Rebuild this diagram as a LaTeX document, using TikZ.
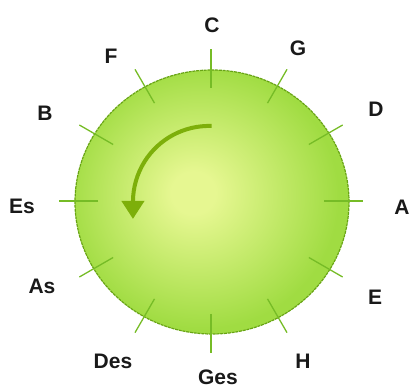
\documentclass[tikz,border=0pt]{standalone}
\usepackage{fontspec}
\setmainfont{Liberation Sans}
\usetikzlibrary{arrows.meta}
\definecolor{ballin}{RGB}{230,247,145}
\definecolor{ballout}{RGB}{160,220,66}
\definecolor{rimc}{RGB}{104,164,20}
\definecolor{tickc}{RGB}{118,188,38}
\definecolor{arrc}{RGB}{125,175,10}
\pgfdeclareradialshading{ball}{\pgfpoint{-3.7bp}{1.9bp}}{color(0bp)=(ballin); color(4bp)=(ballin); color(25bp)=(ballout); color(50bp)=(ballout)}
\begin{document}
\begin{tikzpicture}[x=1pt,y=1pt,
  lbl/.style={font=\bfseries\fontsize{21}{21}\selectfont, inner sep=0pt, text=black!90},
  tickline/.style={tickc, line width=1.3pt},
  rim/.style={rimc, line width=1.2pt, dash pattern=on 3pt off 0.8pt},
  turn/.style={arrc, line width=4pt, -{Triangle[width=22pt,length=18pt]}}]
\useasboundingbox (0,0) rectangle (412,390);
\coordinate (O) at (211,189);
\coordinate (B0) at (212,188);
\shade[shading=ball] (B0) ellipse [x radius=137, y radius=132];
\draw[rim] (B0) ellipse [x radius=137, y radius=132];
\foreach \a in {0,30,...,330}
  \draw[tickline, shift={(O)}] (\a:113) -- (\a:152);
\coordinate (arrstart) at (211.6,264);
\draw[turn] (arrstart) arc[start angle=88, end angle=180, radius=76] -- ++(0,-17);
\node[lbl] (nC) at (212,365) {C};
\node[lbl] (nG) at (298,342) {G};
\node[lbl] (nD) at (376,281) {D};
\node[lbl] (nA) at (402,183) {A};
\node[lbl] (nE) at (375,93) {E};
\node[lbl] (nH) at (303,29) {H};
\node[lbl] (nGes) at (218,13) {Ges};
\node[lbl] (nDes) at (113,29) {Des};
\node[lbl] (nAs) at (42,104) {As};
\node[lbl] (nEs) at (22,184) {Es};
\node[lbl] (nB) at (45,277) {B};
\node[lbl] (nF) at (111,334) {F};
\end{tikzpicture}
\end{document}
